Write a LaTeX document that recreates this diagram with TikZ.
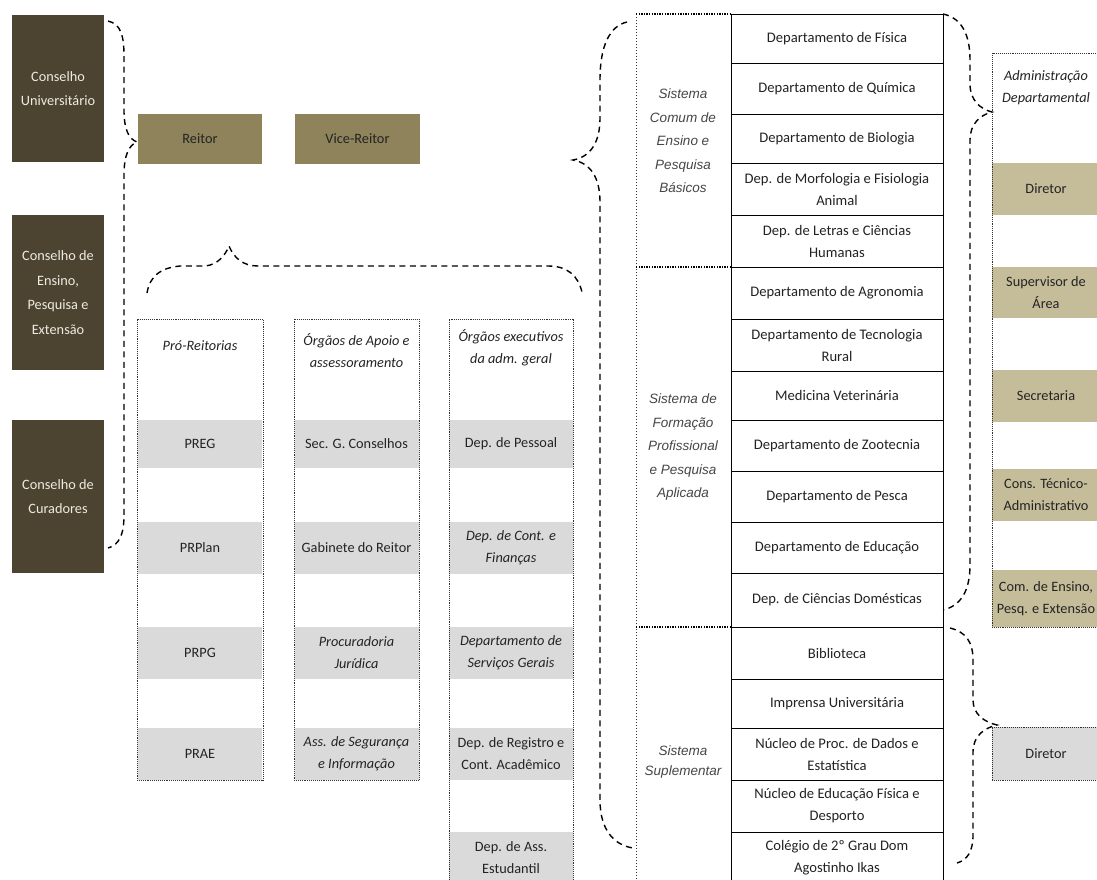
\documentclass[tikz,border=0pt]{standalone}
\usepackage{fontspec}
\setmainfont{Carlito}
\newfontfamily\arialf{Liberation Sans}
\definecolor{darkc}{RGB}{76,68,49}
\definecolor{olivec}{RGB}{142,131,91}
\definecolor{lolive}{RGB}{197,189,154}
\definecolor{grayc}{RGB}{218,218,218}
\definecolor{txt}{RGB}{35,35,35}
\definecolor{ltxt}{RGB}{238,235,225}
\definecolor{sisc}{RGB}{70,70,70}
\definecolor{dotc}{RGB}{50,50,50}
\newcommand\tcellnode[4]{\node[tcell, minimum height={#3-#2}] (#1) at (837,{(#2+#3)/2}) {#4};}
\begin{document}
\begin{tikzpicture}[x=1pt,y=-1pt,
 every node/.style={inner sep=0pt,outer sep=0pt,align=center,text=txt,font=\fontsize{14.3}{22}\selectfont},
 darkbox/.style={fill=darkc,text=ltxt,minimum width=92,font=\fontsize{14.3}{24.5}\selectfont},
 olivebox/.style={fill=olivec,minimum width=124,minimum height=50},
 grayband/.style={fill=grayc,minimum width=124},
 colbox/.style={draw=dotc,line width=1pt,dash pattern=on 1pt off 0.9pt},
 tcell/.style={draw=black,line width=1pt,minimum width=212,font=\fontsize{14.6}{22}\selectfont},
 itx/.style={font=\fontsize{14.3}{22}\selectfont\itshape},
 sis/.style={text=sisc,font=\arialf\itshape\fontsize{13.5}{23.5}\selectfont},
 adband/.style={fill=lolive,minimum width=108},
 sisdot/.style={draw=black,line width=1.4pt,dash pattern=on 1.4pt off 1.2pt},
 sisvert/.style={draw=dotc,line width=0.8pt,dash pattern=on 1pt off 2pt},
 bracepath/.style={draw=black,line width=1.4pt,dash pattern=on 6pt off 4.5pt}
]
\useasboundingbox[fill=white] (0,0) rectangle (1097,879);

% Conselhos
\node[darkbox,minimum height=147] (cu) at (58,88.5) {Conselho\\Universitário};
\node[darkbox,minimum height=155] (ce) at (58,292.5) {Conselho de\\Ensino,\\Pesquisa e\\Extensão};
\node[darkbox,minimum height=153] (cc) at (58,496.5) {Conselho de\\Curadores};

% Reitor
\node[olivebox] (reitor) at (200,139) {Reitor};
\node[olivebox,minimum width=125] (vice) at (357.5,139) {Vice-Reitor};

% left brace
\draw[bracepath] (108,21) .. controls (121,24) and (124,36) .. (124,56) -- (124,110)
  .. controls (124,130) and (129,139) .. (137,142)
  .. controls (129,145) and (124,155) .. (124,175) -- (124,515)
  .. controls (124,535) and (119,545) .. (108,548);

% horizontal brace
\draw[bracepath] (147,293) .. controls (150,276) and (160,268) .. (180,266) -- (205,266)
  .. controls (217,265) and (225,256) .. (229,246)
  .. controls (234,258) and (243,266) .. (258,266) -- (548,266)
  .. controls (568,266) and (578,276) .. (582,292);

% gray bands col1
\node[grayband,minimum height=48] (preg) at (200,444) {PREG};
\node[grayband,minimum height=52] (prplan) at (200,548) {PRPlan};
\node[grayband,minimum height=52] (prpg) at (200,653) {PRPG};
\node[grayband,minimum height=52] (prae) at (200,754) {PRAE};
% col2
\node[grayband,minimum height=48] (sec) at (356.5,444) {Sec. G. Conselhos};
\node[grayband,minimum height=52] (gab) at (356.5,548) {Gabinete do Reitor};
\node[grayband,minimum height=52,itx] (proc) at (356.5,653) {Procuradoria\\Jurídica};
\node[grayband,minimum height=52,itx] (ass) at (356.5,754) {Ass. de Segurança\\e Informação};
% col3
\node[grayband,minimum height=48] (pess) at (511,444) {Dep. de Pessoal};
\node[grayband,minimum height=52,itx] (fin) at (511,548) {Dep. de Cont. e\\Finanças};
\node[grayband,minimum height=52,itx] (serv) at (511,653) {Departamento de\\Serviços Gerais};
\node[grayband,minimum height=52] (reg) at (511,754) {Dep. de Registro e\\Cont. Acadêmico};
\node[grayband,minimum height=52] (estu) at (511,858) {Dep. de Ass.\\Estudantil};

% column boxes
\node[colbox,minimum width=126,minimum height=461] (col1) at (200,549.5) {};
\node[colbox,minimum width=125,minimum height=461] (col2) at (356.5,549.5) {};
\node[colbox,minimum width=124,minimum height=581] (col3) at (511,609.5) {};
\node[itx] (h1) at (200,346) {Pró-Reitorias};
\node[itx] (h2) at (356.5,351) {Órgãos de Apoio e\\assessoramento};
\node[itx] (h3) at (511,348) {Órgãos executivos\\da adm. geral};

% big brace
\draw[bracepath] (627,22) .. controls (610,26) and (600,45) .. (600,80) -- (600,118)
  .. controls (600,143) and (590,157) .. (573,160)
  .. controls (590,163) and (600,177) .. (600,202) -- (600,800)
  .. controls (600,830) and (614,845) .. (633,848);

% table
\tcellnode{r1}{14}{63}{Departamento de Física}
\tcellnode{r2}{63}{114}{Departamento de Química}
\tcellnode{r3}{114}{163}{Departamento de Biologia}
\tcellnode{r4}{163}{215}{Dep. de Morfologia e Fisiologia\\Animal}
\tcellnode{r5}{215}{267}{Dep. de Letras e Ciências\\Humanas}
\tcellnode{r6}{267}{319}{Departamento de Agronomia}
\tcellnode{r7}{319}{371}{Departamento de Tecnologia\\Rural}
\tcellnode{r8}{371}{420}{Medicina Veterinária}
\tcellnode{r9}{420}{471}{Departamento de Zootecnia}
\tcellnode{r10}{471}{522}{Departamento de Pesca}
\tcellnode{r11}{522}{573}{Departamento de Educação}
\tcellnode{r12}{573}{627}{Dep. de Ciências Domésticas}
\tcellnode{r13}{627}{679}{Biblioteca}
\tcellnode{r14}{679}{728}{Imprensa Universitária}
\tcellnode{r15}{728}{780}{Núcleo de Proc. de Dados e\\Estatística}
\tcellnode{r16}{780}{832}{Núcleo de Educação Física e\\Desporto}
\tcellnode{r17}{832}{884}{Colégio de 2º Grau Dom\\Agostinho Ikas}

% sistema groups
\coordinate (g1) at (636,14);
\coordinate (g2) at (636,267);
\coordinate (g3) at (636,627);
\coordinate (g4) at (636,879);
\draw[sisvert] (g1) -- (g4);
\draw[sisdot] (g1) -- (r1.north west);
\draw[sisdot] (g2) -- (r6.north west);
\draw[sisdot] (g3) -- (r13.north west);
\node[sis] (s1) at (683,141) {Sistema\\Comum de\\Ensino e\\Pesquisa\\Básicos};
\node[sis] (s2) at (683,447) {Sistema de\\Formação\\Profissional\\e Pesquisa\\Aplicada};
\node[sis,font=\arialf\itshape\fontsize{13.5}{20}\selectfont] (s3) at (683,762) {Sistema\\Suplementar};

% right braces
\draw[bracepath] (943,14) .. controls (962,18) and (970,35) .. (970,60) -- (970,84)
  .. controls (970,100) and (980,109) .. (992,112)
  .. controls (980,115) and (970,124) .. (970,140) -- (970,565)
  .. controls (970,592) and (960,606) .. (943,610);
\draw[bracepath] (950,628) .. controls (966,632) and (973,642) .. (973,660) -- (973,700)
  .. controls (973,714) and (984,722) .. (997,725)
  .. controls (984,728) and (973,736) .. (973,752) -- (973,835)
  .. controls (973,852) and (967,860) .. (957,863);

% administração departamental
\node[adband,minimum height=52] (dir) at (1046,189) {Diretor};
\node[adband,minimum height=51] (sup) at (1046,292.5) {Supervisor de\\Área};
\node[adband,minimum height=52] (secr) at (1046,396) {Secretaria};
\node[adband,minimum height=52] (cons) at (1046,495) {Cons. Técnico-\\Administrativo};
\node[adband,minimum height=57] (com) at (1046,598.5) {Com. de Ensino,\\Pesq. e Extensão};
\node[colbox,minimum width=108,minimum height=574] (adm) at (1046,340) {};
\node[itx] (admh) at (1046,88) {Administração\\Departamental};
\node[colbox,fill=grayc,minimum width=108,minimum height=53] (dir2) at (1046,753.5) {Diretor};
\end{tikzpicture}
\end{document}
